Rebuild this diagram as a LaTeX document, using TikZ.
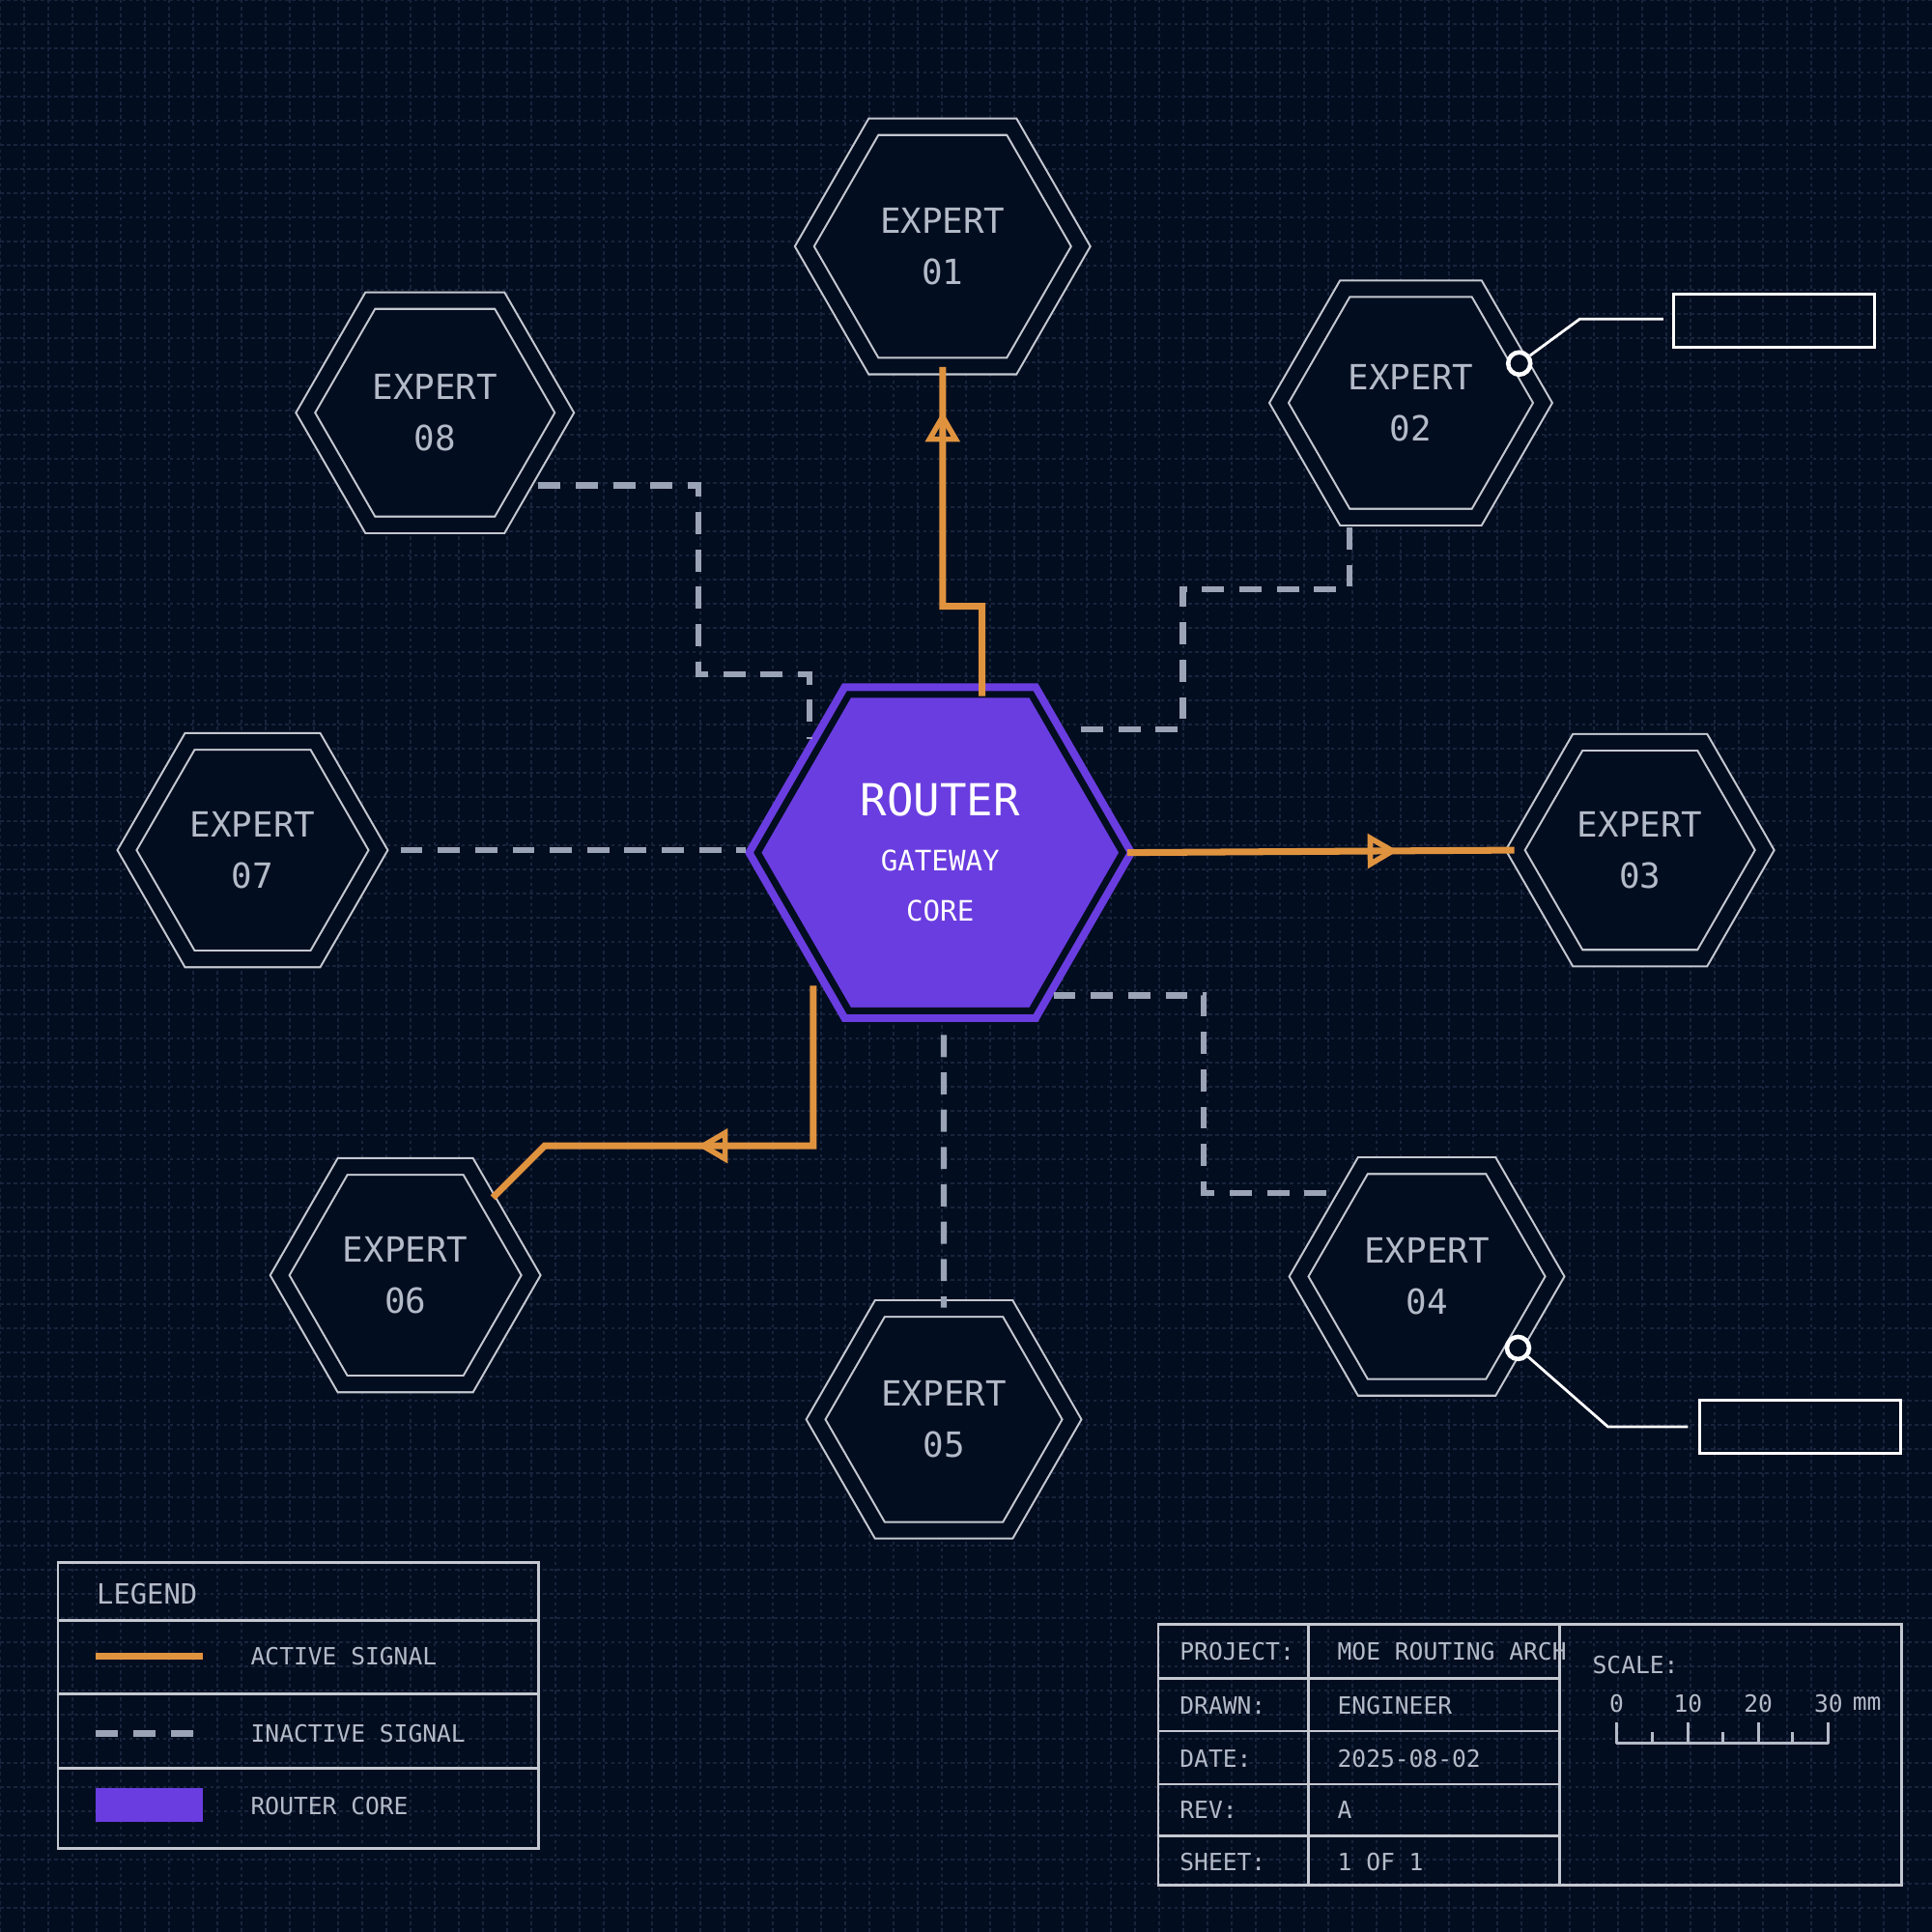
\documentclass[tikz,border=0pt]{standalone}
\usepackage{fontspec}
\setmainfont{DejaVu Sans Mono}
\setmonofont{DejaVu Sans Mono}
\usetikzlibrary{shapes.geometric,arrows.meta,decorations.markings}
\definecolor{bgnavy}{HTML}{030D20}
\definecolor{gridc}{HTML}{18243C}
\definecolor{hexline}{HTML}{C4C8D0}
\definecolor{txtgrey}{HTML}{B4BBC8}
\definecolor{sigorange}{HTML}{E0933F}
\definecolor{inact}{HTML}{9AA4B6}
\definecolor{routerc}{HTML}{6A3DE0}
\tikzset{
  hexa/.style={regular polygon, regular polygon sides=6,
    draw=hexline, line width=0.6pt, double=bgnavy, double distance=0.15cm,
    fill=bgnavy, align=center, text=txtgrey, inner sep=0pt,
    font=\fontsize{10.2}{15}\selectfont},
  active/.style={draw=sigorange, line width=2pt},
  inactive/.style={draw=inact, line width=1.8pt, dash pattern=on 6.5pt off 4.5pt},
  midtip/.style={postaction={decorate}, decoration={markings,
    mark=at position #1 with {\arrow[sigorange, line width=1.6pt]{Triangle[open, length=9pt, width=10pt]}}}},
  frame/.style={draw=hexline, line width=0.8pt},
  small/.style={text=txtgrey, font=\fontsize{7}{9}\selectfont, anchor=west, inner sep=0pt},
}
\begin{document}
\begin{tikzpicture}[x=0.012755cm, y=-0.012755cm, yshift=20cm]
\useasboundingbox[fill=bgnavy] (0,0) rectangle (1568,1568);
\foreach \g in {0,19.6,...,1568}
  \draw[gridc, line width=0.35pt, dash pattern=on 1pt off 1pt] (\g,0) -- (\g,1568) (0,\g) -- (1568,\g);
% experts
\node[hexa, minimum size=2.86cm] (e01) at (765,200) {EXPERT\\01};
\node[hexa, minimum size=2.73cm] (e02) at (1145,327) {EXPERT\\02};
\node[hexa, minimum size=2.58cm] (e03) at (1331,690) {EXPERT\\03};
\node[hexa, minimum size=2.65cm] (e04) at (1158,1036) {EXPERT\\04};
\node[hexa, minimum size=2.65cm] (e05) at (766,1152) {EXPERT\\05};
\node[hexa, minimum size=2.60cm] (e06) at (329,1035) {EXPERT\\06};
\node[hexa, minimum size=2.60cm] (e07) at (205,690) {EXPERT\\07};
\node[hexa, minimum size=2.68cm] (e08) at (353,335) {EXPERT\\08};
% router
\node[hexa, minimum size=3.78cm, draw=routerc, line width=2.3pt, double=bgnavy,
  double distance=0.07cm, fill=routerc, text=white] (router) at (763,692)
  {\fontsize{13}{18}\selectfont ROUTER\\[1pt]\fontsize{8.3}{13}\selectfont GATEWAY\\\fontsize{8.3}{10}\selectfont CORE};
% connectors
\coordinate (b01) at (797,565);
\coordinate (b06) at (660,800);
\coordinate (k06) at (400,972);
\draw[active, midtip=0.88] (b01) -- (797,492) -- (765,492) -- (e01.south);
\draw[active, midtip=0.7] (router.east) -- (e03.west);
\draw[active, midtip=0.55] (b06) -- (660,930) -- (442,930) -- (k06);
\coordinate (s08) at (437,394);
\coordinate (s02) at (1095,428);
\coordinate (s04) at (1080,968);
\draw[inactive] (s08) -- (567,394) -- (567,547) -- (657,547) -- (657,600);
\draw[inactive] (s02) -- (1095,478) -- (960,478) -- (960,592) -- (870,592);
\draw[inactive] (325,690) -- (605,690);
\draw[inactive] (855,808) -- (977,808) -- (977,968) -- (s04);
\draw[inactive] (766,840) -- (e05.north);
% callouts
\node[draw=white, line width=0.8pt, minimum width=2.08cm, minimum height=0.55cm, inner sep=0pt] (c02) at (1440,260) {};
\node[draw=white, line width=0.8pt, minimum width=2.08cm, minimum height=0.55cm, inner sep=0pt] (c04) at (1461,1158) {};
\node[circle, draw=white, fill=bgnavy, line width=1.3pt, minimum size=0.23cm, inner sep=0pt] (p02) at (1233,295) {};
\node[circle, draw=white, fill=bgnavy, line width=1.3pt, minimum size=0.23cm, inner sep=0pt] (p04) at (1232,1094) {};
\draw[white, line width=0.8pt] (p02) -- (1282,259) -- (1350,259);
\draw[white, line width=0.8pt] (p04) -- (1305,1158) -- (1370,1158);
% legend
\draw[frame] (47,1268) rectangle (437,1500);
\draw[frame] (47,1315) -- (437,1315) (47,1375) -- (437,1375) (47,1435) -- (437,1435);
\node[small, font=\fontsize{8.2}{10}\selectfont] (lgd) at (78,1294) {LEGEND};
\draw[active] (78,1344) -- (165,1344);
\node[small] (la) at (203,1344) {ACTIVE SIGNAL};
\draw[inactive] (78,1407) -- (165,1407);
\node[small] (li) at (203,1407) {INACTIVE SIGNAL};
\fill[routerc] (78,1451) rectangle (165,1479);
\node[small] (lr) at (203,1466) {ROUTER CORE};
% title block
\draw[frame] (940,1318) rectangle (1543,1530);
\draw[frame] (1062,1318) -- (1062,1530) (1266,1318) -- (1266,1530);
\foreach \yy in {1362,1405,1448,1490} \draw[frame] (940,\yy) -- (1266,\yy);
\node[small] at (957,1340) {PROJECT:};
\node[small] at (1085,1340) {MOE ROUTING ARCH};
\node[small] at (957,1384) {DRAWN:};
\node[small] at (1085,1384) {ENGINEER};
\node[small] at (957,1427) {DATE:};
\node[small] at (1085,1427) {2025-08-02};
\node[small] at (957,1469) {REV:};
\node[small] at (1085,1469) {A};
\node[small] at (957,1511) {SHEET:};
\node[small] at (1085,1511) {1 OF 1};
\node[small] at (1292,1351) {SCALE:};
\foreach \v/\xx in {0/1312,10/1370,20/1427,30/1484}
  \node[text=txtgrey, font=\fontsize{7}{9}\selectfont, inner sep=0pt] at (\xx,1383) {\v};
\node[small] at (1503,1383) {mm};
\draw[txtgrey, line width=0.8pt] (1312,1415) -- (1484,1415);
\foreach \xx in {1312,1370,1427,1484} \draw[txtgrey, line width=0.8pt] (\xx,1415) -- (\xx,1398);
\foreach \xx in {1341,1398,1455} \draw[txtgrey, line width=0.8pt] (\xx,1415) -- (\xx,1406);
\end{tikzpicture}
\end{document}
